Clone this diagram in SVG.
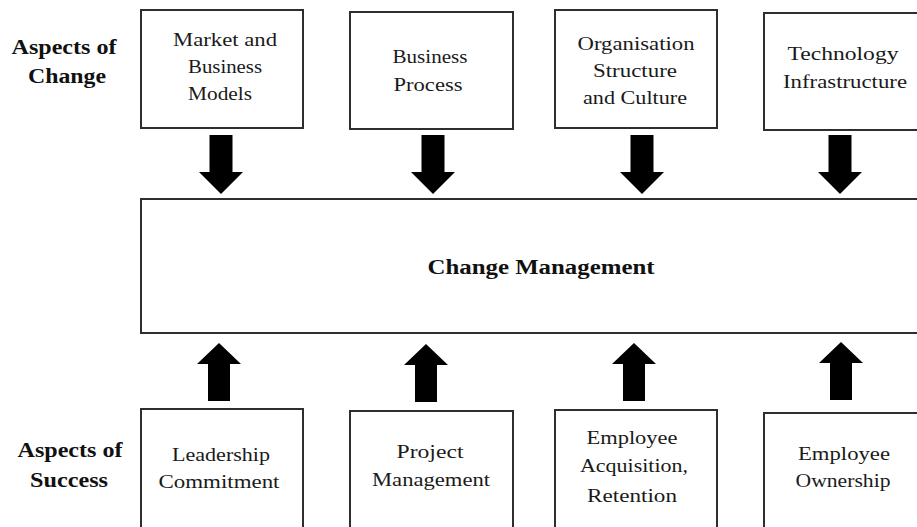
<svg xmlns="http://www.w3.org/2000/svg" width="917" height="527" viewBox="0 0 917 527">
<style>
.box{fill:#fff;stroke:#2e2e2e;stroke-width:2}
.t{font-family:"Liberation Serif","Times New Roman",serif;font-size:18px;fill:#1a1a1a;text-anchor:middle}
.b{font-family:"Liberation Serif","Times New Roman",serif;font-weight:bold;font-size:20px;fill:#111;text-anchor:middle}
.arr{fill:#000}
</style>
<defs>
<path id="down" d="M-11.5,0 H11.5 V37 H22 L0,59 L-22,37 H-11.5 Z"/>
<path id="up" d="M0,0 L22,21 H11 V58 H-11 V21 H-22 Z"/>
</defs>
<rect width="917" height="527" fill="#fff"/>
<g id="label-change">
<text class="b" x="64" y="54" textLength="105" lengthAdjust="spacingAndGlyphs">Aspects of</text>
<text class="b" x="67" y="83" textLength="78" lengthAdjust="spacingAndGlyphs">Change</text>
</g>
<g id="label-success">
<text class="b" x="70" y="457" textLength="105" lengthAdjust="spacingAndGlyphs">Aspects of</text>
<text class="b" x="69" y="487" textLength="78" lengthAdjust="spacingAndGlyphs">Success</text>
</g>
<g id="market">
<rect class="box" x="141" y="10" width="162" height="118"/>
<text class="t" x="225" y="46" textLength="104" lengthAdjust="spacingAndGlyphs">Market and</text>
<text class="t" x="225" y="73" textLength="74" lengthAdjust="spacingAndGlyphs">Business</text>
<text class="t" x="220" y="100" textLength="64" lengthAdjust="spacingAndGlyphs">Models</text>
</g>
<g id="process">
<rect class="box" x="350" y="12" width="163" height="117"/>
<text class="t" x="430" y="63" textLength="75" lengthAdjust="spacingAndGlyphs">Business</text>
<text class="t" x="428" y="91" textLength="69" lengthAdjust="spacingAndGlyphs">Process</text>
</g>
<g id="organisation">
<rect class="box" x="555" y="10" width="162" height="118"/>
<text class="t" x="636" y="50" textLength="117" lengthAdjust="spacingAndGlyphs">Organisation</text>
<text class="t" x="635" y="77" textLength="84" lengthAdjust="spacingAndGlyphs">Structure</text>
<text class="t" x="635" y="104" textLength="104" lengthAdjust="spacingAndGlyphs">and Culture</text>
</g>
<g id="technology">
<rect class="box" x="764" y="13" width="170" height="117"/>
<text class="t" x="843" y="60" textLength="111" lengthAdjust="spacingAndGlyphs">Technology</text>
<text class="t" x="845" y="88" textLength="124" lengthAdjust="spacingAndGlyphs">Infrastructure</text>
</g>
<g id="change-management">
<rect class="box" x="141" y="199" width="790" height="134"/>
<text class="b" x="541" y="274" textLength="227" lengthAdjust="spacingAndGlyphs">Change Management</text>
</g>
<g id="leadership">
<rect class="box" x="141" y="409" width="162" height="130"/>
<text class="t" x="221" y="461" textLength="98" lengthAdjust="spacingAndGlyphs">Leadership</text>
<text class="t" x="219" y="488" textLength="121" lengthAdjust="spacingAndGlyphs">Commitment</text>
</g>
<g id="project">
<rect class="box" x="350" y="411" width="163" height="128"/>
<text class="t" x="430" y="458" textLength="67" lengthAdjust="spacingAndGlyphs">Project</text>
<text class="t" x="431" y="486" textLength="118" lengthAdjust="spacingAndGlyphs">Management</text>
</g>
<g id="acquisition">
<rect class="box" x="555" y="410" width="162" height="129"/>
<text class="t" x="632" y="444" textLength="91" lengthAdjust="spacingAndGlyphs">Employee</text>
<text class="t" x="634" y="472" textLength="108" lengthAdjust="spacingAndGlyphs">Acquisition,</text>
<text class="t" x="632" y="502" textLength="90" lengthAdjust="spacingAndGlyphs">Retention</text>
</g>
<g id="ownership">
<rect class="box" x="764" y="413" width="170" height="126"/>
<text class="t" x="844" y="460" textLength="92" lengthAdjust="spacingAndGlyphs">Employee</text>
<text class="t" x="843" y="487" textLength="95" lengthAdjust="spacingAndGlyphs">Ownership</text>
</g>
<g id="connectors" class="arr">
<use href="#down" x="221" y="135"/>
<use href="#down" x="433" y="135"/>
<use href="#down" x="642" y="135"/>
<use href="#down" x="840" y="135"/>
<use href="#up" x="219" y="343"/>
<use href="#up" x="426" y="344"/>
<use href="#up" x="634" y="343"/>
<use href="#up" x="841" y="342"/>
</g>
</svg>
